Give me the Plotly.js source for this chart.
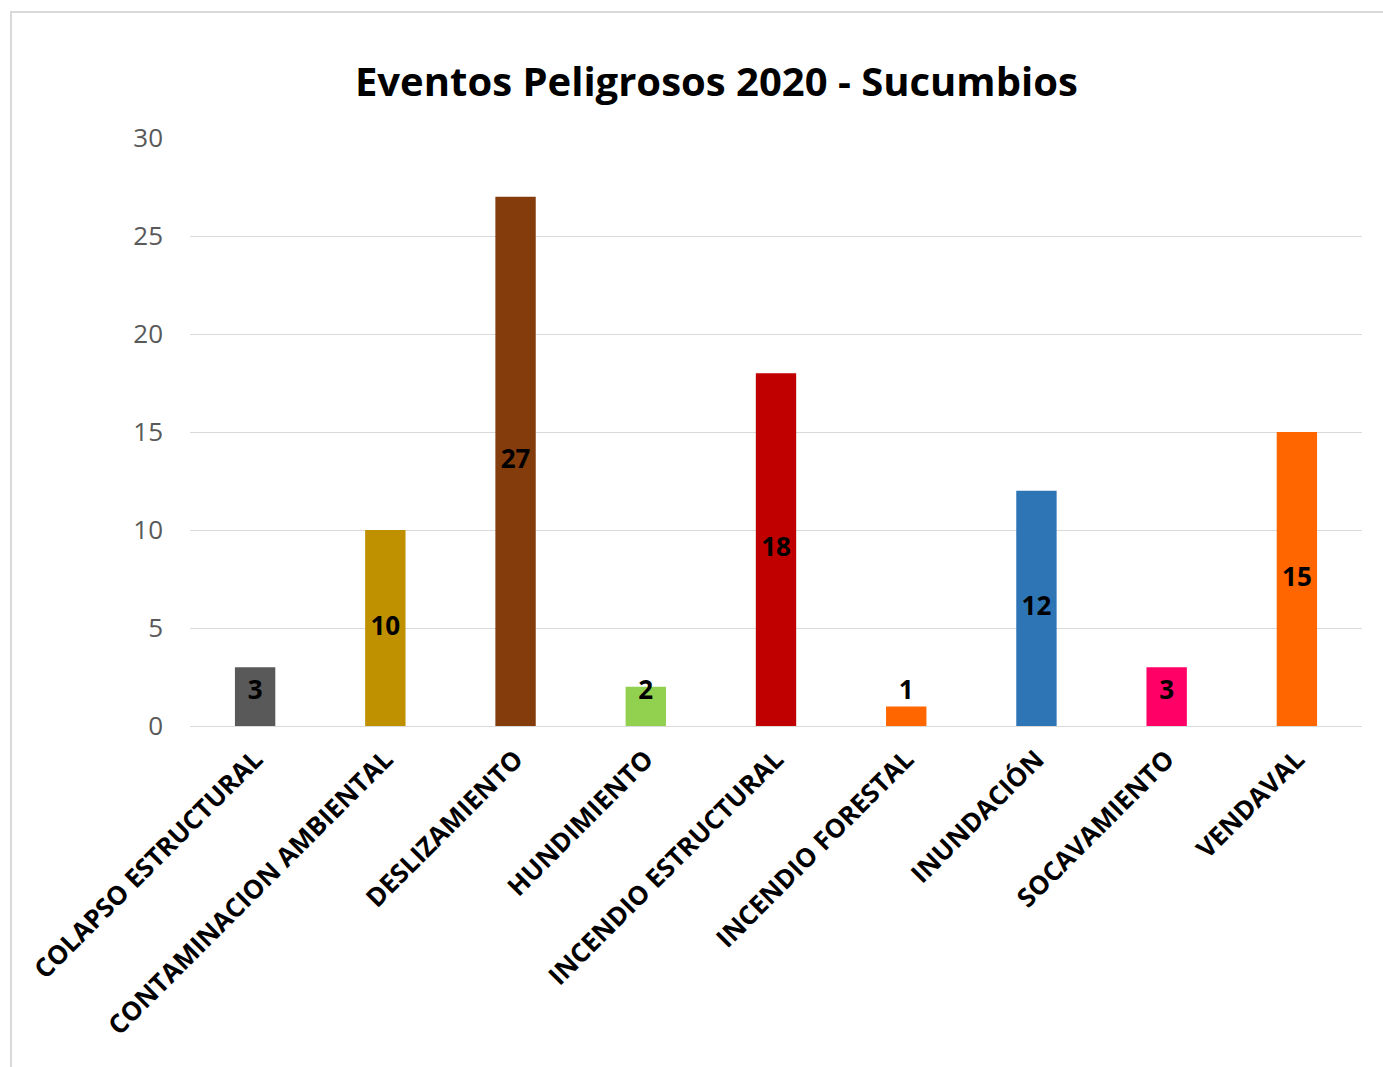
<!DOCTYPE html>
<html>
<head>
<meta charset="utf-8">
<script src="https://cdn.plot.ly/plotly-3.0.1.min.js"></script>
<style>
html,body{margin:0;padding:0;background:#fff;}
#frame{position:absolute;left:10px;top:11px;width:1400px;height:1100px;border-left:2px solid #d9d9d9;border-top:2px solid #d9d9d9;}
#chart{position:absolute;left:0;top:0;width:1383px;height:1067px;}
</style>
</head>
<body>
<div id="frame"></div>
<div id="chart"></div>
<script>
const categories = ["COLAPSO ESTRUCTURAL","CONTAMINACION AMBIENTAL","DESLIZAMIENTO","HUNDIMIENTO","INCENDIO ESTRUCTURAL","INCENDIO FORESTAL","INUNDACIÓN","SOCAVAMIENTO","VENDAVAL"];
const values = [3,10,27,2,18,1,12,3,15];
const colors = ["#595959","#BF9000","#843C0C","#92D050","#C00000","#FF6600","#2E75B6","#FF0066","#FF6600"];
const yTicks = [0,5,10,15,20,25,30];

const labelY = values.map(v => Math.max(v/2, 1.7));

const bars = {
  type:'bar', x:categories, y:values,
  marker:{color:colors, line:{width:0}},
  hoverinfo:'x+y', showlegend:false
};
const labels = {
  type:'scatter', mode:'text', x:categories, y:labelY,
  text:values.map(String), textposition:'middle center',
  textfont:{family:'"Open Sans", sans-serif', size:26, color:'#000', weight:'bold'},
  hoverinfo:'skip', showlegend:false
};

const layout = {
  width:1383, height:1067,
  margin:{l:190, r:21, t:138, b:341},
  paper_bgcolor:'rgba(0,0,0,0)', plot_bgcolor:'rgba(0,0,0,0)',
  title:{text:'<b>Eventos Peligrosos 2020 - Sucumbios</b>', xref:'container', x:0.518, xanchor:'center', yref:'container', y:1-82/1067, yanchor:'middle',
    font:{family:'"Open Sans", sans-serif', size:40, color:'#000'}},
  bargap:0.69,
  xaxis:{type:'category', tickangle:-45, showgrid:false, showline:false, ticks:'', ticklabelstandoff:12,
    tickfont:{family:'"Open Sans", sans-serif', size:26, color:'#000', weight:'bold'}},
  yaxis:{range:[0,30], tickvals:yTicks, ticktext:yTicks.map(String), showgrid:true, gridcolor:'#d9d9d9', gridwidth:1,
    zeroline:true, zerolinecolor:'#d9d9d9', zerolinewidth:1, showline:false, ticks:'', ticklabelstandoff:26,
    tickfont:{family:'"Open Sans", sans-serif', size:26, color:'#595959'}},
  font:{family:'"Open Sans", sans-serif'}
};
Plotly.newPlot('chart',[bars,labels],layout,{displayModeBar:false});
</script>
</body>
</html>
